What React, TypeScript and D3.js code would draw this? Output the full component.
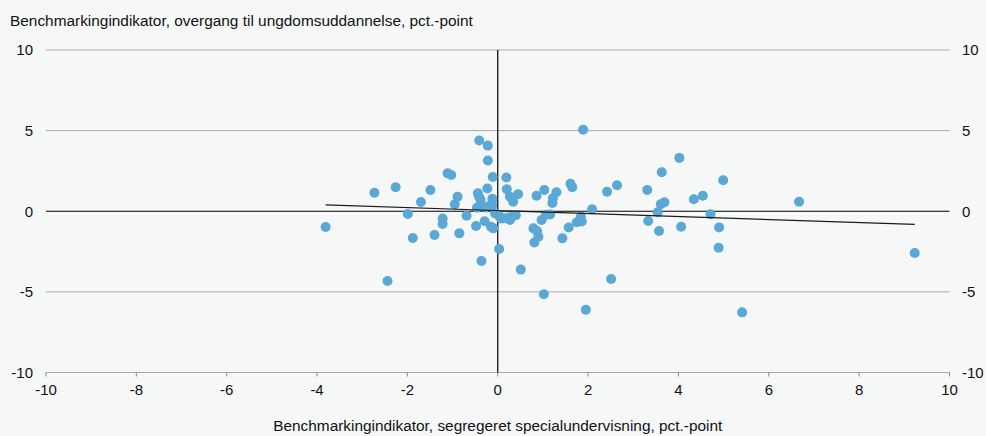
import React from 'react';
import * as d3 from 'd3';

// Segregeret specialundervisning (x) vs. overgang til ungdomsuddannelse (y), pct.-point
const xValues = [
  -3.81, -2.73, -2.26, -2.44, -1.99, -1.88, -1.7, -1.49, -1.4, -1.22,
  -1.22, -1.11, -1.03, -0.95, -0.89, -0.85, -0.69, -0.48, -0.46, -0.44,
  -0.41, -0.38, -0.41, -0.36, -0.29, -0.27, -0.22, -0.22, -0.23, -0.19,
  -0.15, -0.12, -0.12, -0.11, -0.1, -0.06, 0.03, 0.03, 0.07, 0.12,
  0.19, 0.2, 0.23, 0.27, 0.27, 0.34, 0.34, 0.4, 0.45, 0.51,
  0.79, 0.81, 0.86, 0.87, 0.9, 0.97, 1.03, 1.02, 1.07, 1.16,
  1.22, 1.21, 1.3, 1.43, 1.57, 1.61, 1.65, 1.75, 1.84, 1.86,
  1.89, 1.95, 2.09, 2.42, 2.51, 2.64, 3.31, 3.33, 3.54, 3.57,
  3.61, 3.69, 3.63, 4.02, 4.06, 4.34, 4.54, 4.71, 4.9, 4.89,
  4.99, 5.41, 6.67, 9.23,
];
const yValues = [
  -0.98, 1.15, 1.49, -4.33, -0.17, -1.66, 0.57, 1.32, -1.47, -0.45,
  -0.79, 2.35, 2.25, 0.43, 0.9, -1.37, -0.28, -0.91, 0.22, 1.11,
  0.88, 0.7, 4.39, -3.09, -0.62, 0.24, 4.07, 3.15, 1.41, 0.33,
  -0.96, 0.39, 0.78, 2.12, -1.06, -0.13, -0.29, -2.34, -0.45, -0.44,
  2.09, 1.37, -0.39, -0.54, 0.9, 0.59, -0.29, -0.25, 1.06, -3.62,
  -1.06, -1.94, 0.96, -1.22, -1.58, -0.54, 1.32, -5.15, -0.21, -0.2,
  0.8, 0.51, 1.18, -1.68, -1.01, 1.71, 1.49, -0.68, -0.34, -0.64,
  5.06, -6.11, 0.12, 1.21, -4.2, 1.61, 1.32, -0.6, -0.06, -1.22,
  0.44, 0.56, 2.42, 3.31, -0.96, 0.74, 0.96, -0.18, -1.0, -2.26,
  1.92, -6.27, 0.59, -2.59,
];
// Lineær trend, endepunkter
const trendX = [-3.81, 9.23];
const trendY = [0.39, -0.81];

const xTicks = [-10, -8, -6, -4, -2, 0, 2, 4, 6, 8, 10];
const yTicks = [-10, -5, 0, 5, 10];

const yTitle = 'Benchmarkingindikator, overgang til ungdomsuddannelse, pct.-point';
const xTitle = 'Benchmarkingindikator, segregeret specialundervisning, pct.-point';

const W = 986;
const H = 436;
const margin = { top: 50, right: 36.5, bottom: 63.5, left: 46 };
const font = '"Liberation Sans", Arial, sans-serif';

export default function App() {
  const x = d3.scaleLinear().domain([-10, 10]).range([margin.left, W - margin.right]);
  const y = d3.scaleLinear().domain([-10, 10]).range([H - margin.bottom, margin.top]);

  const points = xValues.map((v, i) => [v, yValues[i]] as [number, number]);
  const trend = d3.line<number>()
    .x((d) => x(d))
    .y((d, i) => y(trendY[i]));

  return (
    <svg
      width={W}
      height={H}
      style={{ position: 'absolute', left: 0, top: 0, background: '#f6f8f8' }}
      fontFamily={font}
      fontSize={15}
    >
      <text x={10} y={26} fill="#111" fontSize={15.4}>{yTitle}</text>

      {/* gridlines */}
      {yTicks.filter((t) => t !== 0).map((t) => (
        <line key={t} x1={x(-10)} x2={x(10)} y1={y(t)} y2={y(t)} stroke="#a9a9a9" strokeWidth={1} />
      ))}

      {/* y labels, both sides */}
      {yTicks.map((t) => (
        <g key={'yl' + t}>
          <text x={33} y={y(t)} dy="0.35em" textAnchor="end" fill="#111">{t}</text>
          <text x={962} y={y(t)} dy="0.35em" textAnchor="start" fill="#111">{t}</text>
        </g>
      ))}

      {/* x ticks */}
      {xTicks.map((t) => (
        <g key={'xt' + t}>
          <line x1={x(t)} x2={x(t)} y1={y(-10)} y2={y(-10) + 4} stroke="#888" strokeWidth={1} />
          <text x={x(t)} y={395} textAnchor="middle" fill="#111">{t}</text>
        </g>
      ))}

      {/* zero lines */}
      <line x1={x(-10)} x2={x(10)} y1={y(0)} y2={y(0)} stroke="#000" strokeWidth={1.2} />
      <line x1={x(0)} x2={x(0)} y1={y(10)} y2={y(-10)} stroke="#000" strokeWidth={1.2} />

      {/* points */}
      {points.map(([px, py], i) => (
        <circle key={i} cx={x(px)} cy={y(py)} r={5} fill="#5ba7d6" />
      ))}

      {/* trend */}
      <path d={trend(trendX) || ''} fill="none" stroke="#1a1a1a" strokeWidth={1.2} />

      <text x={x(0)} y={431} textAnchor="middle" fill="#111" fontSize={15.4}>{xTitle}</text>
    </svg>
  );
}
